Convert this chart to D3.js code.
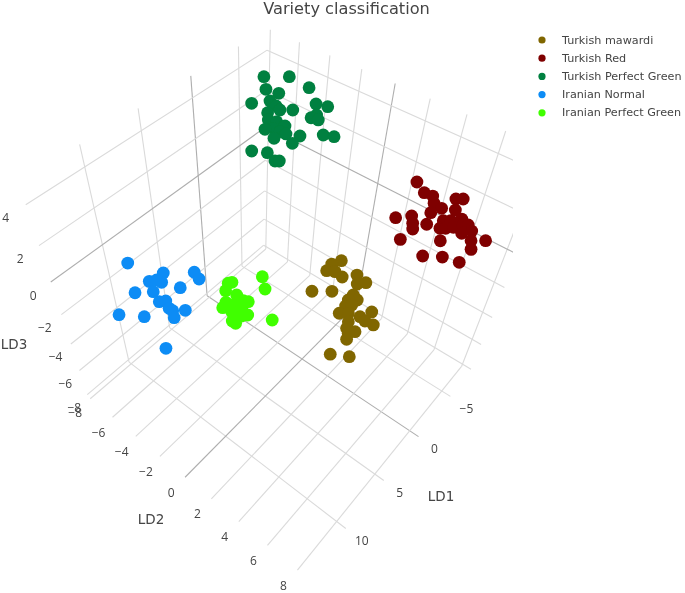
<!DOCTYPE html><html><head><meta charset="utf-8"><script src="https://cdn.jsdelivr.net/npm/d3@7"></script><style>body{margin:0;background:#fff}svg{display:block}</style></head><body><svg id="c" width="685" height="593"></svg><script>
const mawardi=[[-1.39,1.27,-1.1],[-0.80,0.96,-1.2],[-0.16,0.98,-1.3],[-0.48,1.36,-1.3],[-0.53,1.82,-1.4],[-1.39,2.34,-1.4],[-0.96,2.61,-1.6],[-1.48,2.91,-1.6],[1.62,1.02,-1.7],[0.68,1.83,-1.7],[-0.17,2.79,-1.8],[-0.10,3.10,-1.9],[0.32,2.74,-1.9],[0.78,2.82,-2.0],[0.42,3.03,-2.0],[1.38,2.75,-2.2],[0.96,3.12,-2.2],[0.67,3.72,-2.2],[-0.11,4.06,-2.1],[0.64,4.04,-2.3],[0.42,4.48,-2.4],[1.47,3.40,-2.3],[1.79,3.49,-2.5],[1.66,3.96,-2.5],[1.97,3.70,-2.6],[2.37,3.82,-2.7],[3.87,3.60,-3.0],[3.16,4.45,-3.0]];
const turkishRed=[[-4.84,3.40,2.8],[-4.62,3.97,2.6],[-4.69,4.41,2.6],[-4.51,4.62,2.4],[-4.60,5.03,2.3],[-3.95,4.74,2.2],[-5.63,5.32,2.5],[-5.94,5.59,2.5],[-5.04,5.60,2.3],[-2.21,3.58,2.1],[-2.86,4.16,2.2],[-2.66,4.36,2.0],[-2.37,4.52,1.9],[-3.18,4.91,2.0],[-4.00,5.44,2.1],[-4.32,5.71,2.1],[-4.93,6.06,2.1],[-3.60,5.49,1.9],[-3.84,5.70,1.9],[-4.25,5.95,1.9],[-4.57,6.29,2.0],[-4.89,6.46,2.0],[-4.72,6.75,1.9],[-4.29,6.42,1.8],[-1.36,4.34,1.7],[-2.95,5.85,1.7],[-4.26,6.97,1.7],[-4.88,7.50,1.7],[-3.91,7.18,1.5],[-1.50,5.60,1.4],[-2.42,6.31,1.3],[-2.89,7.06,1.2]];
const turkishPerfectGreen=[[-5.56,-6.77,3.9],[-6.77,-5.73,3.9],[-7.24,-4.63,3.6],[-5.03,-6.30,3.6],[-5.45,-5.66,3.5],[-3.60,-6.42,3.3],[-4.49,-5.69,3.4],[-4.49,-5.27,3.3],[-4.49,-5.00,3.2],[-5.09,-4.48,3.2],[-6.57,-3.76,3.3],[-6.85,-3.14,3.3],[-3.85,-5.46,3.1],[-5.93,-3.35,3.1],[-5.61,-3.53,3.0],[-5.73,-3.12,3.0],[-3.39,-5.13,3.0],[-3.62,-4.70,3.0],[-3.80,-4.24,2.9],[-3.23,-4.69,2.8],[-2.75,-4.97,2.8],[-3.23,-4.24,2.8],[-3.49,-3.98,2.7],[-2.72,-4.33,2.6],[-3.95,-3.31,2.7],[-3.30,-3.43,2.5],[-5.13,-2.43,2.7],[-5.47,-1.91,2.7],[-0.91,-4.75,2.4],[-1.66,-4.14,2.3],[-1.46,-3.50,2.2],[-1.66,-3.33,2.2]];
const iranianNormal=[[9.77,-6.54,-0.3],[8.61,-4.83,-0.5],[7.14,-3.65,-0.5],[7.17,-3.31,-0.7],[9.61,-5.15,-0.7],[9.11,-4.62,-0.7],[9.18,-4.93,-0.7],[8.52,-3.72,-0.8],[10.82,-5.33,-0.9],[9.92,-4.67,-0.9],[10.11,-4.13,-1.1],[9.77,-3.91,-1.1],[10.00,-3.52,-1.2],[9.90,-3.35,-1.3],[9.30,-2.88,-1.3],[10.19,-3.05,-1.4],[12.50,-5.34,-1.4],[11.48,-4.26,-1.4],[11.96,-2.46,-2.0]];
const iranianPerfectGreen=[[1.87,-2.25,-2.5],[2.46,-1.69,-2.7],[3.70,-3.35,-2.6],[3.96,-3.46,-2.6],[4.54,-3.28,-2.7],[4.21,-2.68,-2.8],[3.92,-2.01,-3.0],[4.20,-2.20,-2.9],[5.07,-2.93,-3.0],[5.52,-2.88,-3.1],[4.99,-2.56,-3.0],[4.54,-2.36,-3.0],[5.01,-2.18,-3.1],[5.27,-2.38,-3.2],[4.63,-2.05,-3.1],[4.73,-1.55,-3.2],[5.10,-1.76,-3.2],[5.41,-1.93,-3.3],[5.82,-1.99,-3.3],[5.72,-1.81,-3.4],[3.79,-0.36,-3.3]];
const seriesNames=["Turkish mawardi","Turkish Red","Turkish Perfect Green","Iranian Normal","Iranian Perfect Green"];
const seriesColors=["#806600","#7f0000","#00803f","#0a8cf5","#40ff00"];
const seriesData=[mawardi,turkishRed,turkishPerfectGreen,iranianNormal,iranianPerfectGreen];
const ld1Ticks=[-5,0,5,10], ld2Ticks=[-8,-6,-4,-2,0,2,4,6,8], ld3Ticks=[-8,-6,-4,-2,0,2,4];
const ld1Range=[-8.3,14.7], ld2Range=[-8.2,8.6], ld3Range=[-8.2,5];
const cam=[3.1277313e+2,-1.1445432e+1,1.1729694e+1,-6.6436518e+0,2.4137155e+2,5.2097122e+0,6.0273242e+0,-2.3801514e+1,-9.5778611e-3,-1.1328758e-2,-2.6338454e-2];
const sx=d3.scaleLinear().domain(ld1Range).range(ld1Range), sy=d3.scaleLinear().domain(ld2Range).range(ld2Range), sz=d3.scaleLinear().domain(ld3Range).range(ld3Range);
function project(a,b,c){const x=sx(a),y=sy(b),z=sz(c),w=1+cam[8]*x+cam[9]*y+cam[10]*z;return [(cam[0]+cam[1]*x+cam[2]*y+cam[3]*z)/w,(cam[4]+cam[5]*x+cam[6]*y+cam[7]*z)/w];}
const [xA,xB]=ld1Range,[yA,yB]=ld2Range,[zA,zB]=ld3Range;
const minus=t=>String(t).replace("-","\u2212");
const svg=d3.select("#c");
const defs=svg.append("defs");
defs.append("clipPath").attr("id","sceneClip").append("rect").attr("width",513).attr("height",593);
defs.append("filter").attr("id","soft").attr("x",0).attr("y",0).attr("width",1).attr("height",1).attr("filterUnits","objectBoundingBox").append("feGaussianBlur").attr("stdDeviation",0.45);
const root=svg.append("g").attr("filter","url(#soft)");
root.append("rect").attr("width",685).attr("height",593).attr("fill","#fff");
const grid=[];
ld1Ticks.forEach(t=>{grid.push({a:[t,yA,zA],b:[t,yB,zA],t});grid.push({a:[t,yA,zA],b:[t,yA,zB],t});});
ld2Ticks.forEach(t=>{grid.push({a:[xA,t,zA],b:[xB,t,zA],t});grid.push({a:[xA,t,zA],b:[xA,t,zB],t});});
ld3Ticks.forEach(t=>{grid.push({a:[xA,yA,t],b:[xB,yA,t],t});grid.push({a:[xA,yA,t],b:[xA,yB,t],t});});
root.append("g").attr("clip-path","url(#sceneClip)").selectAll("line").data(grid).join("line")
 .attr("x1",d=>project(...d.a)[0]).attr("y1",d=>project(...d.a)[1]).attr("x2",d=>project(...d.b)[0]).attr("y2",d=>project(...d.b)[1])
 .attr("stroke",d=>d.t===0?"#aeaeae":"#dadada").attr("stroke-width",1.1);
const dots=root.append("g");
seriesData.forEach((pts,i)=>{dots.append("g").selectAll("circle").data(pts).join("circle")
 .attr("cx",d=>project(...d)[0]).attr("cy",d=>project(...d)[1]).attr("r",6.4).attr("fill",seriesColors[i]);});
const tickFont="'Open Sans',sans-serif";
function label(g,t,pos,dx,dy){g.append("text").attr("x",pos[0]+dx).attr("y",pos[1]+dy).attr("text-anchor","middle").attr("dominant-baseline","central").attr("font-family",tickFont).attr("font-size",12).attr("fill","#444").text(minus(t));}
const labs=root.append("g");
const ld3Offset=d3.scaleLinear().domain([-8,4]).range([-13,-20]);
ld1Ticks.forEach(t=>label(labs,t,project(t,yB,zA),16,12));
ld2Ticks.forEach(t=>label(labs,t,project(xB,t,zA),t===-8?-15:-14,t===-8?14:15));
ld3Ticks.forEach(t=>label(labs,t,project(xB,yA,t),ld3Offset(t),13));
[["LD1",441,496],["LD2",151,519],["LD3",14,344]].forEach(([s,x,y])=>root.append("text").attr("x",x).attr("y",y).attr("text-anchor","middle").attr("dominant-baseline","central").attr("font-family","'DejaVu Sans',sans-serif").attr("font-size",13.5).attr("fill","#444").text(s));
root.append("text").attr("x",346.5).attr("y",8).attr("text-anchor","middle").attr("dominant-baseline","central").attr("font-family","'DejaVu Sans',sans-serif").attr("font-size",16.2).attr("fill","#444").text("Variety classification");
const legend=root.append("g").selectAll("g").data(seriesNames).join("g").attr("transform",(d,i)=>`translate(542,${40+i*18.2})`);
legend.append("circle").attr("r",3.6).attr("fill",(d,i)=>seriesColors[i]);
legend.append("text").attr("x",20).attr("dominant-baseline","central").attr("font-family","'DejaVu Sans',sans-serif").attr("font-size",11.2).attr("fill","#444").text(d=>d);
</script></body></html>
